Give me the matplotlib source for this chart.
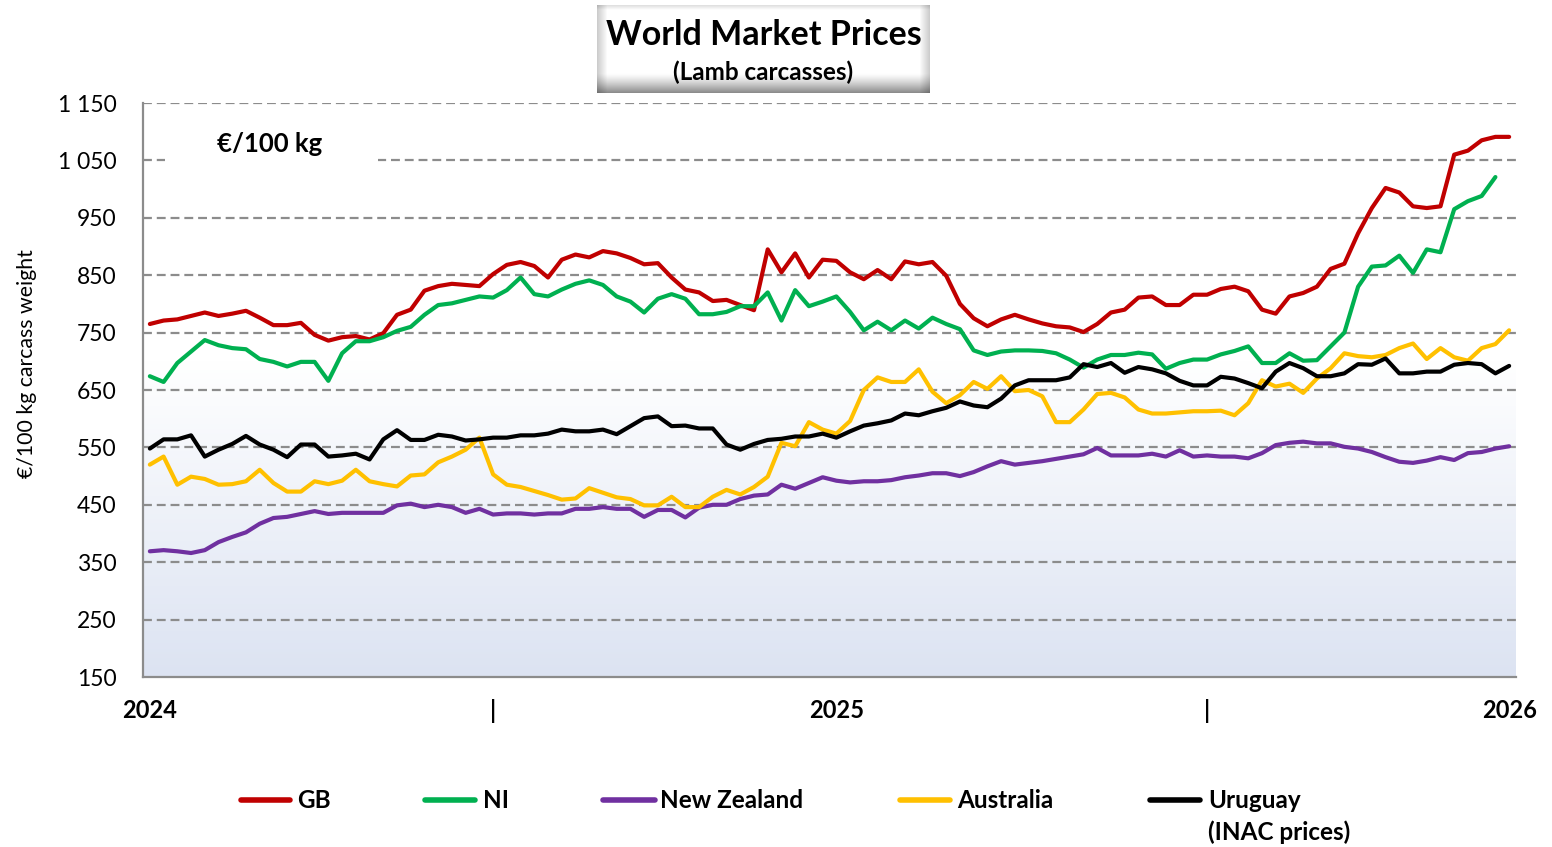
import numpy as np
import matplotlib
matplotlib.use("Agg")
import matplotlib.pyplot as plt
from matplotlib.lines import Line2D
from matplotlib.patches import Rectangle

plt.rcParams['font.family'] = ['Lato', 'DejaVu Sans']

# ---------------- data (weekly, EUR/100 kg carcass weight) ----------------
gb = [765, 771, 773, 779, 785, 779, 783, 788, 776, 763, 763, 767, 746, 736, 742, 744, 738, 749, 781, 790,
      823, 831, 835, 833, 831, 852, 868, 873, 866, 846, 877, 886, 881, 892, 888, 880, 869, 871, 846, 825,
      820, 805, 807, 798, 789, 895, 855, 888, 846, 877, 875, 855, 843, 859, 843, 874, 869, 873, 849, 800,
      775, 761, 773, 781, 773, 766, 761, 759, 751, 765, 785, 790, 811, 813, 798, 798, 816, 816, 826, 830,
      822, 790, 783, 813, 819, 830, 861, 870, 923, 967, 1002, 994, 970, 967, 970, 1060, 1067, 1085, 1091, 1091]
ni = [674, 664, 697, 717, 737, 728, 723, 721, 704, 699, 691, 699, 699, 666, 714, 735, 735, 742, 753, 760,
      781, 798, 801, 807, 813, 811, 824, 846, 817, 813, 825, 835, 841, 833, 813, 804, 785, 809, 817, 809,
      782, 782, 786, 796, 796, 820, 771, 824, 796, 804, 813, 786, 754, 769, 754, 771, 757, 776, 765, 756,
      719, 711, 717, 719, 719, 718, 714, 703, 689, 703, 711, 711, 715, 712, 687, 697, 703, 703, 712, 718,
      726, 697, 697, 714, 701, 702, 726, 750, 830, 865, 867, 884, 854, 895, 890, 965, 979, 988, 1021, np.nan]
nz = [369, 371, 369, 366, 371, 385, 394, 402, 417, 427, 429, 434, 439, 434, 436, 436, 436, 436, 449, 452,
      446, 450, 446, 436, 443, 433, 435, 435, 433, 435, 435, 443, 443, 446, 443, 443, 429, 441, 441, 428,
      445, 450, 450, 460, 466, 468, 485, 478, 488, 498, 492, 489, 491, 491, 493, 498, 501, 505, 505, 500,
      507, 517, 526, 520, 523, 526, 530, 534, 538, 549, 536, 536, 536, 539, 534, 545, 534, 536, 534, 534,
      531, 540, 554, 558, 560, 557, 557, 551, 548, 542, 533, 525, 523, 527, 533, 528, 540, 542, 548, 552]
aus = [520, 534, 485, 499, 495, 485, 486, 491, 511, 488, 473, 473, 491, 486, 492, 511, 491, 486, 482, 501,
       503, 524, 534, 546, 567, 503, 485, 481, 474, 467, 459, 461, 479, 471, 463, 460, 449, 449, 464, 446,
       446, 464, 476, 468, 481, 499, 558, 552, 594, 581, 574, 596, 650, 672, 664, 664, 686, 647, 627, 641,
       664, 652, 674, 648, 650, 639, 594, 594, 616, 643, 645, 637, 616, 609, 609, 611, 613, 613, 614, 606,
       627, 667, 656, 661, 645, 670, 688, 714, 709, 707, 711, 723, 731, 704, 723, 707, 701, 723, 730, 754]
uru = [548, 564, 564, 571, 534, 546, 556, 570, 555, 546, 533, 555, 555, 534, 536, 539, 529, 564, 580, 563,
       563, 572, 569, 562, 564, 567, 567, 571, 571, 574, 581, 578, 578, 581, 573, 587, 601, 604, 587, 588,
       583, 583, 555, 546, 556, 563, 565, 569, 569, 574, 567, 578, 588, 592, 597, 609, 606, 613, 619, 630,
       623, 620, 635, 658, 667, 667, 667, 672, 695, 690, 697, 680, 690, 686, 679, 666, 658, 658, 673, 670,
       662, 653, 682, 697, 688, 674, 674, 679, 695, 694, 705, 679, 679, 682, 682, 694, 697, 695, 679, 692]

series_names = ["GB", "NI", "New Zealand", "Australia", "Uruguay"]
series_data = [gb, ni, nz, aus, uru]
series_colors = ["#C00000", "#00B050", "#7030A0", "#FFC000", "#000000"]

x_label_idx = [0, 25, 50, 77, 99]
x_labels = ["2024", "|", "2025", "|", "2026"]
y_ticks = [150, 250, 350, 450, 550, 650, 750, 850, 950, 1050, 1150]

# ---------------- figure ----------------
W, H = 1552, 847
fig = plt.figure(figsize=(W / 100, H / 100), dpi=100)
fig.patch.set_facecolor("white")

L, R, T, B = 143, 1516, 103, 677
ax = fig.add_axes([L / W, 1 - B / H, (R - L) / W, (B - T) / H])

n = len(gb)
xs = np.arange(n) + 0.5
ax.set_xlim(0, n)
ax.set_ylim(150, 1150)

# background gradient
yy = np.linspace(1150, 150, 400)
frac = np.clip((700 - yy) / 550, 0, 1)
top_c = np.array([1.0, 1.0, 1.0])
bot_c = np.array([220, 227, 242]) / 255
grad = top_c[None, :] * (1 - frac[:, None]) + bot_c[None, :] * frac[:, None]
grad = np.repeat(grad[:, None, :], 2, axis=1)
ax.imshow(grad, extent=[0, n, 150, 1150], aspect="auto", zorder=0, interpolation="bilinear")

# grid
for yv in y_ticks[1:]:
    ax.axhline(yv, color="#8c8c8c", lw=1.6, ls=(0, (4, 2.2)), zorder=1)

# unit label box
ax.add_patch(Rectangle((1.6, 1010), 15.5, 100, facecolor="white", edgecolor="none", zorder=2))
ax.text(9.2, 1079, "€/100 kg", fontsize=18.5, fontweight="bold", ha="center", va="center", zorder=3)

for name, d, c in zip(series_names, series_data, series_colors):
    ax.plot(xs, d, color=c, lw=3.0, solid_joinstyle="round", solid_capstyle="round", zorder=4)

for s in ["top", "right"]:
    ax.spines[s].set_visible(False)
for s in ["left", "bottom"]:
    ax.spines[s].set_color("#8c8c8c")
    ax.spines[s].set_linewidth(1.6)

ax.set_yticks(y_ticks)
ax.set_yticklabels([f"{v:,}".replace(",", " ") for v in y_ticks], fontsize=16.5)
ax.tick_params(axis="y", length=0, pad=19)
ax.set_xticks([xs[i] for i in x_label_idx])
ax.set_xticklabels(x_labels, fontsize=17, fontweight="bold")
ax.tick_params(axis="x", length=0, pad=16)
fig.text(27 / W, 1 - 364 / H, "€/100 kg carcass weight", fontsize=15.3, rotation=90,
         ha="center", va="center")

# title box with gradient
tx0, ty0, tx1, ty1 = 597, 5, 930, 93
tax = fig.add_axes([tx0 / W, 1 - ty1 / H, (tx1 - tx0) / W, (ty1 - ty0) / H])
ny, nx = 88, 333
yy2 = np.arange(ny) / (ny - 1)
vy = np.where(yy2 > 0.78, 1 - 0.45 * ((yy2 - 0.78) / 0.22) ** 1.3, 1.0)
vy = np.where(yy2 < 0.05, 0.88 + 0.12 * yy2 / 0.05, vy)
xx2 = np.arange(nx) / (nx - 1)
ed = np.minimum(xx2, 1 - xx2)
vx = np.where(ed < 0.03, 0.8 + 0.2 * ed / 0.03, 1.0)
img = vy[:, None] * vx[None, :]
tax.imshow(np.dstack([img, img, img]), aspect="auto", extent=[0, 1, 0, 1], interpolation="bilinear")
tax.set_axis_off()
tax.text(0.5, 0.66, "World Market Prices", fontsize=24.5, fontweight="bold", ha="center", va="center")
tax.text(0.5, 0.23, "(Lamb carcasses)", fontsize=17.5, fontweight="bold", ha="center", va="center")

# legend
leg_y = 800
leg_x = [(241, 290, 297), (425, 475, 483), (603, 655, 660), (900, 950, 957), (1150, 1200, 1208)]
for (a, b, t), name, c in zip(leg_x, series_names, series_colors):
    fig.add_artist(Line2D([a / W, b / W], [1 - leg_y / H] * 2, color=c, lw=4.0,
                          solid_capstyle="round", transform=fig.transFigure))
    fig.text(t / W, 1 - leg_y / H, name, fontsize=17.5, fontweight="bold", ha="left", va="center")
fig.text(1208 / W, 1 - 832 / H, "(INAC prices)", fontsize=17.5, fontweight="bold", ha="left", va="center")

fig.savefig("out.png", dpi=100)
